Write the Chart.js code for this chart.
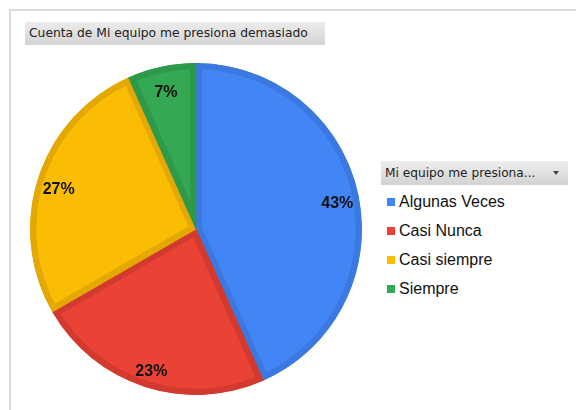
<!DOCTYPE html>
<html>
<head>
<meta charset="utf-8">
<script src="https://cdn.jsdelivr.net/npm/chart.js@4.4.0/dist/chart.umd.min.js"></script>
<style>
  html, body { margin: 0; padding: 0; background: #fff; }
  body { width: 576px; height: 410px; position: relative; overflow: hidden; font-family: "Liberation Sans", Arial, sans-serif; }
  .frame { position: absolute; left: 9px; top: 9px; width: 580px; height: 420px; border-top: 2px solid #dcdcdc; border-left: 2px solid #dcdcdc; }
  .title { position: absolute; left: 25px; top: 22px; width: 300px; height: 23px; line-height: 23px;
    background: linear-gradient(#ececec, #d4d4d4); font-family: "DejaVu Sans", Verdana, sans-serif; font-size: 12.3px; color: #222; padding-left: 4px; box-sizing: border-box; white-space: nowrap; }
  .lhead { position: absolute; left: 381px; top: 161px; width: 187px; height: 24px; line-height: 24px;
    background: linear-gradient(#eeeeee, #d2d2d2); font-family: "DejaVu Sans", Verdana, sans-serif; font-size: 12.2px; color: #222; padding-left: 4px; box-sizing: border-box; white-space: nowrap; }
  .lhead .arrow { position: absolute; right: 9px; top: 10px; width: 0; height: 0; border-left: 3.5px solid transparent; border-right: 3.5px solid transparent; border-top: 4px solid #444; }
  #legend { position: absolute; left: 387px; top: 188px; }
  #legend div { height: 29px; line-height: 27px; font-size: 16px; color: #111; white-space: nowrap; }
  #legend span { display: inline-block; width: 8px; height: 8px; margin-right: 4px; vertical-align: 1px; }
  #wrap { position: absolute; left: 30px; top: 63px; width: 332px; height: 332px; }
</style>
</head>
<body>
<div class="frame"></div>
<div class="title">Cuenta de Mi equipo me presiona demasiado</div>
<div class="lhead">Mi equipo me presiona...<span class="arrow"></span></div>
<div id="legend"></div>
<div id="wrap"><canvas id="pieChart" width="332" height="332"></canvas></div>
<script>
const categories = ['Algunas Veces', 'Casi Nunca', 'Casi siempre', 'Siempre'];
const counts = [13, 7, 8, 2];
const fillColors = ['#4285f4', '#ea4335', '#fbbc04', '#34a853'];
const edgeColors = ['#3b78e0', '#d33a2f', '#e3a902', '#2e994b'];

// percentage labels drawn near the outer part of each slice
const pctLabels = {
  id: 'pctLabels',
  afterDatasetsDraw(chart) {
    const ctx = chart.ctx;
    const meta = chart.getDatasetMeta(0);
    const total = counts.reduce((a, b) => a + b, 0);
    ctx.save();
    ctx.font = 'bold 16px "Liberation Sans", Arial, sans-serif';
    ctx.fillStyle = '#111';
    ctx.textAlign = 'center';
    ctx.textBaseline = 'middle';
    meta.data.forEach((arc, i) => {
      const mid = (arc.startAngle + arc.endAngle) / 2;
      const r = arc.outerRadius * 0.87;
      const x = arc.x + Math.cos(mid) * r;
      const y = arc.y + Math.sin(mid) * r + 5;
      ctx.fillText(Math.round(counts[i] / total * 100) + '%', x, y);
    });
    ctx.restore();
  }
};

const pieCtx = document.getElementById('pieChart').getContext('2d');
const pieChart = new Chart(pieCtx, {
  type: 'pie',
  data: {
    labels: categories,
    datasets: [{
      data: counts,
      backgroundColor: fillColors,
      borderColor: edgeColors,
      borderWidth: 6,
      borderAlign: 'inner'
    }]
  },
  options: {
    responsive: false,
    animation: false,
    layout: { padding: 0 },
    plugins: {
      legend: { display: false },
      tooltip: { enabled: false }
    }
  },
  plugins: [pctLabels]
});

// html legend from the same arrays
const legendEl = document.getElementById('legend');
categories.forEach((c, i) => {
  const row = document.createElement('div');
  row.innerHTML = '<span style="background:' + fillColors[i] + '"></span>' + c;
  legendEl.appendChild(row);
});
</script>
</body>
</html>
